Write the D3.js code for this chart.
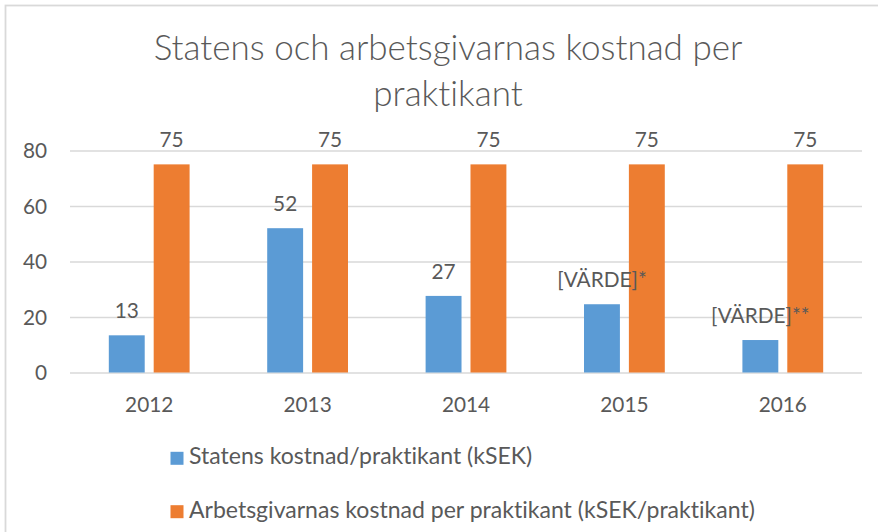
<!DOCTYPE html>
<html>
<head>
<meta charset="utf-8">
<script src="https://cdn.jsdelivr.net/npm/d3@7"></script>
<style>
  html, body { margin: 0; padding: 0; background: #fff; }
  svg { display: block; font-variant-ligatures: none; font-feature-settings: "liga" 0, "clig" 0; }
</style>
</head>
<body>
<svg id="chart" width="878" height="532"></svg>
<script>
// ---- data ----
const titleLines = ["Statens och arbetsgivarnas kostnad per", "praktikant"];
const years = ["2012", "2013", "2014", "2015", "2016"];
const seriesNames = [
  "Statens kostnad/praktikant (kSEK)",
  "Arbetsgivarnas kostnad per praktikant (kSEK/praktikant)"
];
const statensValues = [13.4, 52, 27.6, 24.6, 11.7];
const statensLabels = ["13", "52", "27", "[VÄRDE]*", "[VÄRDE]**"];
const arbetsgivarValues = [75, 75, 75, 75, 75];
const arbetsgivarLabels = ["75", "75", "75", "75", "75"];
const yTicks = [0, 20, 40, 60, 80];
const colors = ["#5B9BD5", "#ED7D31"];

// ---- setup ----
const FONT = "Lato, 'Open Sans', sans-serif";
const TXT = "#595959";
const svg = d3.select("#chart");

svg.append("rect")
  .attr("x", 5.5).attr("y", 5.5).attr("width", 900).attr("height", 600)
  .attr("fill", "#fff").attr("stroke", "#d9d9d9").attr("stroke-width", 1.8);

function fitWidth(sel, target) {
  const w = sel.node().getComputedTextLength();
  const fs = parseFloat(sel.attr("font-size"));
  const nfs = fs * target / w;
  sel.attr("font-size", nfs);
  return nfs;
}

// title
const t1 = svg.append("text").attr("x", 448).attr("y", 60)
  .attr("text-anchor", "middle").attr("font-family", FONT).attr("font-weight", 300)
  .attr("font-size", 32).attr("fill", TXT).text(titleLines[0]);
const titleFs = fitWidth(t1, 589);
svg.append("text").attr("x", 448).attr("y", 106)
  .attr("text-anchor", "middle").attr("font-family", FONT).attr("font-weight", 300)
  .attr("font-size", titleFs).attr("fill", TXT).text(titleLines[1]);

const labelFs = 20.8;

// scales
const x0 = d3.scaleBand().domain(years).range([70, 862]).paddingInner(0.49).paddingOuter(0.245);
const x1 = d3.scaleBand().domain([0, 1]).range([0, x0.bandwidth()]).paddingInner(0.2);
const y = d3.scaleLinear().domain([0, 80]).range([372.5, 150.5]);

// y axis + gridlines
const yAxis = svg.append("g").attr("transform", "translate(70,0)")
  .call(d3.axisLeft(y).tickValues(yTicks).tickSize(-792).tickPadding(23));
yAxis.select(".domain").remove();
yAxis.selectAll(".tick line").attr("stroke", "#d9d9d9").attr("stroke-width", 1.6);
yAxis.selectAll(".tick text").attr("font-family", FONT).attr("font-size", labelFs)
  .attr("fill", TXT).attr("dy", "0.35em");

// x axis labels
const xAxis = svg.append("g").attr("transform", `translate(0,${y(0)})`)
  .call(d3.axisBottom(x0).tickSize(0).tickPadding(0));
xAxis.select(".domain").remove();
xAxis.selectAll(".tick text").attr("font-family", FONT).attr("font-size", labelFs)
  .attr("fill", TXT).attr("y", 39).attr("dy", 0);

// bars (all bars first, then labels on top)
const series = [
  { values: statensValues, labels: statensLabels },
  { values: arbetsgivarValues, labels: arbetsgivarLabels }
];
const barLayer = svg.append("g");
const labelLayer = svg.append("g");
series.forEach((s, si) => {
  barLayer.append("g").selectAll("rect").data(years).join("rect")
    .attr("x", (d) => x0(d) + x1(si))
    .attr("width", x1.bandwidth())
    .attr("y", (d, i) => y(s.values[i]))
    .attr("height", (d, i) => y(0) - y(s.values[i]))
    .attr("fill", colors[si]);
  labelLayer.append("g").selectAll("text").data(years).join("text")
    .attr("x", (d) => x0(d) + x1(si) + x1.bandwidth() / 2)
    .attr("y", (d, i) => y(s.values[i]) - 17)
    .attr("text-anchor", "middle")
    .attr("font-family", FONT).attr("font-size", labelFs).attr("fill", TXT)
    .text((d, i) => s.labels[i]);
});

// legend
const lg = svg.append("g");
const legendY = [464.3, 517.7];
const lt = seriesNames.map((name, i) =>
  lg.append("text").attr("x", 189).attr("y", legendY[i])
    .attr("font-family", FONT).attr("font-size", 21).attr("fill", TXT).text(name));
const legFs = fitWidth(lt[1], 566);
lt[0].attr("font-size", legFs);
seriesNames.forEach((name, i) => {
  lg.append("rect").attr("x", 170.5).attr("y", legendY[i] - 12.5)
    .attr("width", 13).attr("height", 13).attr("fill", colors[i]);
});
</script>
</body>
</html>
